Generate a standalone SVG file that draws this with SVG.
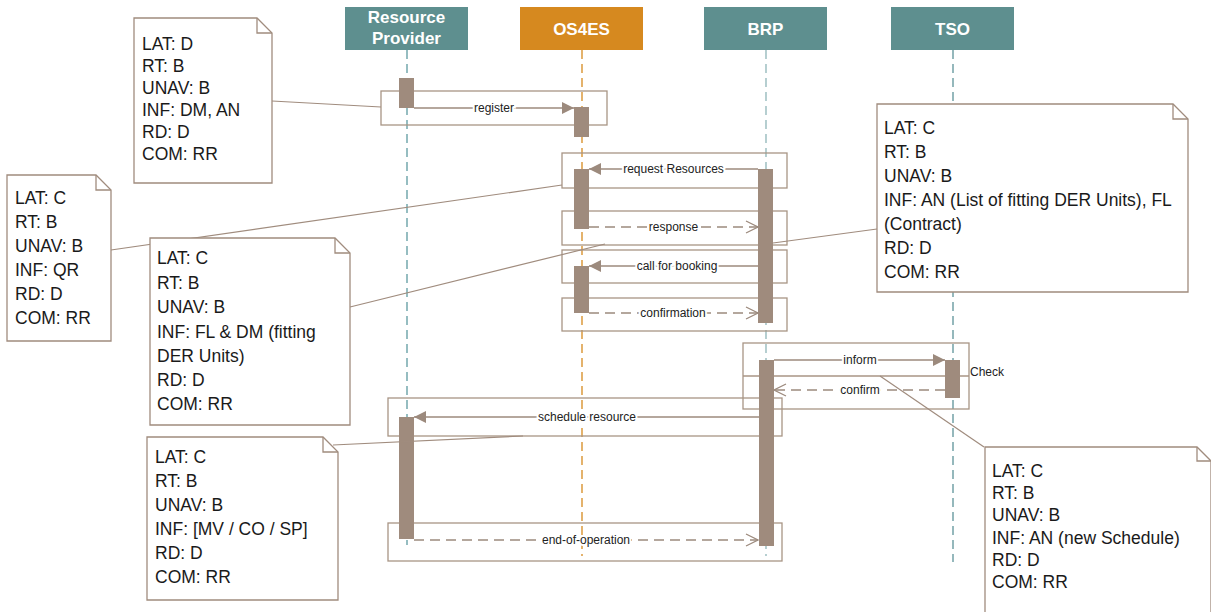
<svg xmlns="http://www.w3.org/2000/svg" width="1211" height="612" viewBox="0 0 1211 612">
  <style>
    .hdr { font-family: "Liberation Sans", Arial, sans-serif; font-weight: bold; font-size: 17px; fill: #ffffff; text-anchor: middle; }
    .life { fill: none; stroke-width: 1.3; stroke-dasharray: 9 5; }
    .frame { fill: none; stroke: #a89585; stroke-width: 1.3; }
    .act { fill: #9f8b7d; }
    .msg { fill: none; stroke: #9c8a7d; stroke-width: 1.3; }
    .ret { fill: none; stroke: #9c8a7d; stroke-width: 1.3; stroke-dasharray: 10 6; }
    .lbl { font-family: "Liberation Sans", Arial, sans-serif; font-size: 12px; fill: #222222; text-anchor: middle; stroke: #ffffff; stroke-width: 4; paint-order: stroke; }
    .note { fill: #ffffff; stroke: #a08c7e; stroke-width: 1.3; }
    .fold { fill: none; stroke: #a08c7e; stroke-width: 1.3; }
    .ntxt { font-family: "Liberation Sans", Arial, sans-serif; font-size: 17.5px; fill: #1a1a1a; }
    .link { fill: none; stroke: #a08c7e; stroke-width: 1.2; }
  </style>
  <defs>
    <marker id="solid" viewBox="0 0 12 12" refX="12" refY="6" markerWidth="12" markerHeight="12" markerUnits="userSpaceOnUse" orient="auto">
      <path d="M0,0 L12,6 L0,12 Z" fill="#9c8a7d"/>
    </marker>
    <marker id="open" viewBox="0 0 14 14" refX="13" refY="7" markerWidth="14" markerHeight="14" markerUnits="userSpaceOnUse" orient="auto">
      <path d="M1,1 L13,7 L1,13" fill="none" stroke="#9c8a7d" stroke-width="1.3"/>
    </marker>
  </defs>

  <!-- lifeline heads -->
  <g id="resource-provider">
    <rect x="345" y="7" width="123" height="43" fill="#5e8f8f"/>
    <text class="hdr" x="406.5" y="23">Resource</text>
    <text class="hdr" x="406.5" y="44">Provider</text>
    <line class="life" x1="407" y1="50" x2="407" y2="545" stroke="#5e9aa0"/>
  </g>
  <g id="os4es">
    <rect x="520" y="7" width="123" height="43" fill="#d6891f"/>
    <text class="hdr" x="581.5" y="35">OS4ES</text>
    <line class="life" x1="582" y1="50" x2="582" y2="556" stroke="#d68a1f"/>
  </g>
  <g id="brp">
    <rect x="704" y="7" width="123" height="43" fill="#5e8f8f"/>
    <text class="hdr" x="765.5" y="35">BRP</text>
    <line class="life" x1="766" y1="50" x2="766" y2="556" stroke="#8fb5b8"/>
  </g>
  <g id="tso">
    <rect x="891" y="7" width="123" height="43" fill="#5e8f8f"/>
    <text class="hdr" x="952.5" y="35">TSO</text>
    <line class="life" x1="953" y1="50" x2="953" y2="562" stroke="#5d9399"/>
  </g>

  <!-- interaction frames -->
  <g id="frames">
    <rect class="frame" x="381" y="91" width="226" height="34"/>
    <rect class="frame" x="562" y="153" width="225" height="35"/>
    <rect class="frame" x="562" y="211" width="225" height="34"/>
    <rect class="frame" x="562" y="250" width="225" height="33"/>
    <rect class="frame" x="562" y="298" width="225" height="33"/>
    <rect class="frame" x="743" y="343" width="226" height="66"/>
    <line class="frame" x1="743" y1="376" x2="969" y2="376"/>
    <rect class="frame" x="388" y="398" width="394" height="38"/>
    <rect class="frame" x="388" y="523" width="394" height="38"/>
  </g>

  <!-- activation bars -->
  <g id="activations">
    <rect class="act" x="399" y="78" width="15" height="30"/>
    <rect class="act" x="574" y="107" width="15" height="30"/>
    <rect class="act" x="574" y="169" width="15" height="60"/>
    <rect class="act" x="758" y="169" width="15" height="154"/>
    <rect class="act" x="574" y="266" width="15" height="47"/>
    <rect class="act" x="759" y="360" width="15" height="186"/>
    <rect class="act" x="945" y="360" width="15" height="38"/>
    <rect class="act" x="399" y="417" width="15" height="122"/>
  </g>

  <!-- messages -->
  <g id="connectors">
    <line class="msg" x1="414" y1="108" x2="574" y2="108" marker-end="url(#solid)"/>
    <text class="lbl" x="494" y="112">register</text>

    <line class="msg" x1="758" y1="169" x2="589" y2="169" marker-end="url(#solid)"/>
    <text class="lbl" x="673.5" y="173">request Resources</text>

    <line class="ret" x1="589" y1="227" x2="758" y2="227" marker-end="url(#open)"/>
    <text class="lbl" x="673.5" y="231">response</text>

    <line class="msg" x1="758" y1="266" x2="589" y2="266" marker-end="url(#solid)"/>
    <text class="lbl" x="677" y="270">call for booking</text>

    <line class="ret" x1="589" y1="313" x2="758" y2="313" marker-end="url(#open)"/>
    <text class="lbl" x="673" y="317">confirmation</text>

    <line class="msg" x1="774" y1="360" x2="945" y2="360" marker-end="url(#solid)"/>
    <text class="lbl" x="860" y="364">inform</text>

    <line class="ret" x1="945" y1="390" x2="774" y2="390" marker-end="url(#open)"/>
    <text class="lbl" x="860" y="394">confirm</text>

    <text x="970" y="376" font-family="Liberation Sans, Arial, sans-serif" font-size="12" fill="#222222">Check</text>

    <line class="msg" x1="759" y1="417" x2="414" y2="417" marker-end="url(#solid)"/>
    <text class="lbl" x="587" y="421">schedule resource</text>

    <line class="ret" x1="414" y1="540" x2="758" y2="540" marker-end="url(#open)"/>
    <text class="lbl" x="586" y="544">end-of-operation</text>

    <!-- note anchors -->
    <line class="link" x1="272" y1="101" x2="381" y2="107"/>
    <line class="link" x1="111" y1="250" x2="562" y2="185"/>
    <line class="link" x1="350" y1="307" x2="605" y2="244"/>
    <line class="link" x1="877" y1="229" x2="773" y2="243"/>
    <line class="link" x1="984" y1="447" x2="880" y2="376"/>
    <line class="link" x1="333" y1="445" x2="523" y2="436"/>
  </g>

  <!-- notes -->
  <g id="note-register">
    <path class="note" d="M134,18 H257 L272,33 V183 H134 Z"/>
    <path class="fold" d="M257,18 V33 H272"/>
    <text class="ntxt" x="142" y="50">LAT: D</text>
    <text class="ntxt" x="142" y="72">RT: B</text>
    <text class="ntxt" x="142" y="94">UNAV: B</text>
    <text class="ntxt" x="142" y="116">INF: DM, AN</text>
    <text class="ntxt" x="142" y="138">RD: D</text>
    <text class="ntxt" x="142" y="160">COM: RR</text>
  </g>

  <g id="note-request">
    <path class="note" d="M7,175 H96 L111,190 V341 H7 Z"/>
    <path class="fold" d="M96,175 V190 H111"/>
    <text class="ntxt" x="15" y="203.5">LAT: C</text>
    <text class="ntxt" x="15" y="227.5">RT: B</text>
    <text class="ntxt" x="15" y="251.5">UNAV: B</text>
    <text class="ntxt" x="15" y="275.5">INF: QR</text>
    <text class="ntxt" x="15" y="299.5">RD: D</text>
    <text class="ntxt" x="15" y="323.5">COM: RR</text>
  </g>

  <g id="note-response">
    <path class="note" d="M150,238 H335 L350,253 V425 H150 Z"/>
    <path class="fold" d="M335,238 V253 H350"/>
    <text class="ntxt" x="157" y="264">LAT: C</text>
    <text class="ntxt" x="157" y="288.5">RT: B</text>
    <text class="ntxt" x="157" y="313">UNAV: B</text>
    <text class="ntxt" x="157" y="337.5">INF: FL &amp; DM (fitting</text>
    <text class="ntxt" x="157" y="361.5">DER Units)</text>
    <text class="ntxt" x="157" y="386">RD: D</text>
    <text class="ntxt" x="157" y="410">COM: RR</text>
  </g>

  <g id="note-brp">
    <path class="note" d="M877,104 H1173 L1188,119 V292 H877 Z"/>
    <path class="fold" d="M1173,104 V119 H1188"/>
    <text class="ntxt" x="884" y="133.5">LAT: C</text>
    <text class="ntxt" x="884" y="157.5">RT: B</text>
    <text class="ntxt" x="884" y="181.5">UNAV: B</text>
    <text class="ntxt" x="884" y="205.5">INF: AN (List of fitting DER Units), FL</text>
    <text class="ntxt" x="884" y="229.5">(Contract)</text>
    <text class="ntxt" x="884" y="253.5">RD: D</text>
    <text class="ntxt" x="884" y="277.5">COM: RR</text>
  </g>

  <g id="note-inform">
    <path class="note" d="M985,447 H1197 L1211,461 V616 H985 Z"/>
    <path class="fold" d="M1197,447 V461 H1211"/>
    <text class="ntxt" x="992" y="477">LAT: C</text>
    <text class="ntxt" x="992" y="499">RT: B</text>
    <text class="ntxt" x="992" y="521">UNAV: B</text>
    <text class="ntxt" x="992" y="543.5">INF: AN (new Schedule)</text>
    <text class="ntxt" x="992" y="565.5">RD: D</text>
    <text class="ntxt" x="992" y="587.5">COM: RR</text>
  </g>

  <g id="note-schedule">
    <path class="note" d="M147,437 H323 L338,452 V600 H147 Z"/>
    <path class="fold" d="M323,437 V452 H338"/>
    <text class="ntxt" x="155" y="462.5">LAT: C</text>
    <text class="ntxt" x="155" y="486.5">RT: B</text>
    <text class="ntxt" x="155" y="510.5">UNAV: B</text>
    <text class="ntxt" x="155" y="534.5">INF: [MV / CO / SP]</text>
    <text class="ntxt" x="155" y="558.5">RD: D</text>
    <text class="ntxt" x="155" y="582.5">COM: RR</text>
  </g>
</svg>
